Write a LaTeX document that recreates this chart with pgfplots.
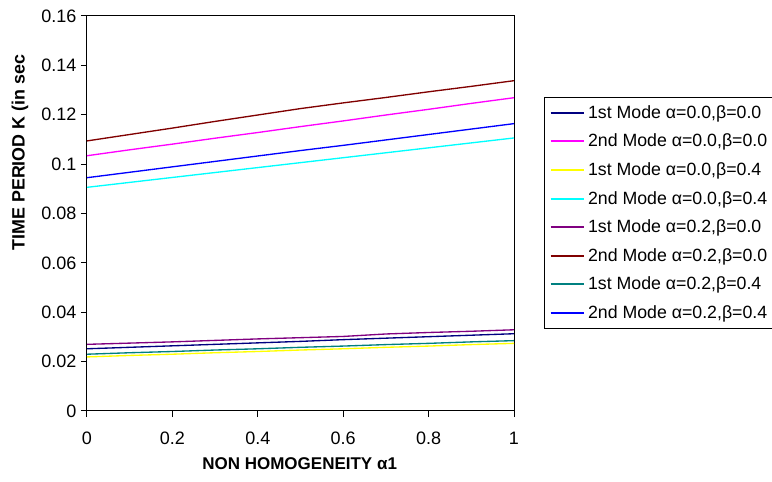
\documentclass[border=0pt]{standalone}
\usepackage{pgfplots}
\pgfplotsset{compat=1.18}
\usepackage{fontspec}
\setmainfont{Liberation Sans}
\definecolor{cNavy}{RGB}{0,0,128}
\definecolor{cMag}{RGB}{255,0,255}
\definecolor{cYel}{RGB}{255,255,0}
\definecolor{cCyan}{RGB}{0,255,255}
\definecolor{cPurp}{RGB}{128,0,128}
\definecolor{cBrown}{RGB}{128,0,0}
\definecolor{cTeal}{RGB}{0,128,128}
\definecolor{cBlue}{RGB}{0,0,255}
\begin{document}
\begin{tikzpicture}[x=1pt,y=1pt]
\useasboundingbox (-65.25,-53.25) rectangle (513.75,308.25);
\begin{axis}[
  at={(0,0)}, anchor=origin,
  scale only axis, width=320.25pt, height=296.25pt,
  xmin=0, xmax=1, ymin=0, ymax=0.16,
  xtick={0,0.2,0.4,0.6,0.8,1},
  ytick={0,0.02,0.04,0.06,0.08,0.1,0.12,0.14,0.16},
  xticklabels={0,0.2,0.4,0.6,0.8,1},
  yticklabels={0,0.02,0.04,0.06,0.08,0.1,0.12,0.14,0.16},
  xtick pos=bottom, ytick pos=left,
  tick align=outside, major tick length=4.5pt,
  tick style={black, line width=0.75pt},
  axis line style={black, line width=0.75pt},
  ticklabel style={font=\fontsize{13.5}{16}\selectfont},
  xticklabel style={yshift=-8pt},
  /pgf/number format/assume math mode=true,
  xlabel={NON HOMOGENEITY α1},
  ylabel={TIME PERIOD K (in sec},
  xlabel style={font=\fontsize{12.75}{15}\selectfont\bfseries, at={(axis description cs:0.498,-0.134)}, anchor=center},
  ylabel style={font=\fontsize{13.4}{15}\selectfont\bfseries, at={(axis description cs:-0.157,0.654)}, anchor=center, rotate=0},
  legend style={at={(axis description cs:1.070,0.795)}, anchor=north west, draw=black, line width=0.75pt,
     font=\fontsize{13.3}{16}\selectfont, row sep=8.3pt, inner xsep=4pt, inner ysep=5pt,
     nodes={inner ysep=1pt, inner xsep=2.5pt}},
  legend cell align=left,
  legend image code/.code={\draw[#1, line width=1.5pt] (0pt,0pt) -- (24.75pt,0pt);},
  every axis plot/.append style={line width=1pt},
]
\addplot[cNavy] coordinates {(0,0.0252)(0.1,0.0258)(0.2,0.0264)(0.3,0.0270)(0.4,0.0276)(0.5,0.0282)(0.6,0.0289)(0.7,0.0295)(0.8,0.0301)(0.9,0.0307)(1,0.0313)};
\addlegendentry{1st Mode α=0.0,β=0.0}
\addplot[cMag] coordinates {(0,0.1034)(0.1,0.1058)(0.2,0.1081)(0.3,0.1105)(0.4,0.1128)(0.5,0.1152)(0.6,0.1175)(0.7,0.1199)(0.8,0.1222)(0.9,0.1246)(1,0.1269)};
\addlegendentry{2nd Mode α=0.0,β=0.0}
\addplot[cYel] coordinates {(0,0.0219)(0.1,0.0225)(0.2,0.0230)(0.3,0.0236)(0.4,0.0241)(0.5,0.0247)(0.6,0.0252)(0.7,0.0258)(0.8,0.0263)(0.9,0.0269)(1,0.0274)};
\addlegendentry{1st Mode α=0.0,β=0.4}
\addplot[cCyan] coordinates {(0,0.0906)(0.1,0.0926)(0.2,0.0946)(0.3,0.0966)(0.4,0.0986)(0.5,0.1006)(0.6,0.1026)(0.7,0.1046)(0.8,0.1066)(0.9,0.1086)(1,0.1106)};
\addlegendentry{2nd Mode α=0.0,β=0.4}
\addplot[cPurp] coordinates {(0,0.0270)(0.1,0.0275)(0.2,0.0280)(0.3,0.0286)(0.4,0.0292)(0.5,0.0297)(0.6,0.0302)(0.7,0.0312)(0.8,0.0318)(0.9,0.0323)(1,0.0329)};
\addlegendentry{1st Mode α=0.2,β=0.0}
\addplot[cBrown] coordinates {(0,0.1094)(0.1,0.1120)(0.2,0.1146)(0.3,0.1173)(0.4,0.1199)(0.5,0.1225)(0.6,0.1248)(0.7,0.1270)(0.8,0.1293)(0.9,0.1315)(1,0.1338)};
\addlegendentry{2nd Mode α=0.2,β=0.0}
\addplot[cTeal] coordinates {(0,0.0230)(0.1,0.0236)(0.2,0.0241)(0.3,0.0247)(0.4,0.0252)(0.5,0.0258)(0.6,0.0263)(0.7,0.0269)(0.8,0.0274)(0.9,0.0280)(1,0.0285)};
\addlegendentry{1st Mode α=0.2,β=0.4}
\addplot[cBlue] coordinates {(0,0.0945)(0.1,0.0967)(0.2,0.0989)(0.3,0.1011)(0.4,0.1033)(0.5,0.1055)(0.6,0.1076)(0.7,0.1098)(0.8,0.1120)(0.9,0.1142)(1,0.1164)};
\addlegendentry{2nd Mode α=0.2,β=0.4}
\end{axis}
\end{tikzpicture}
\end{document}
